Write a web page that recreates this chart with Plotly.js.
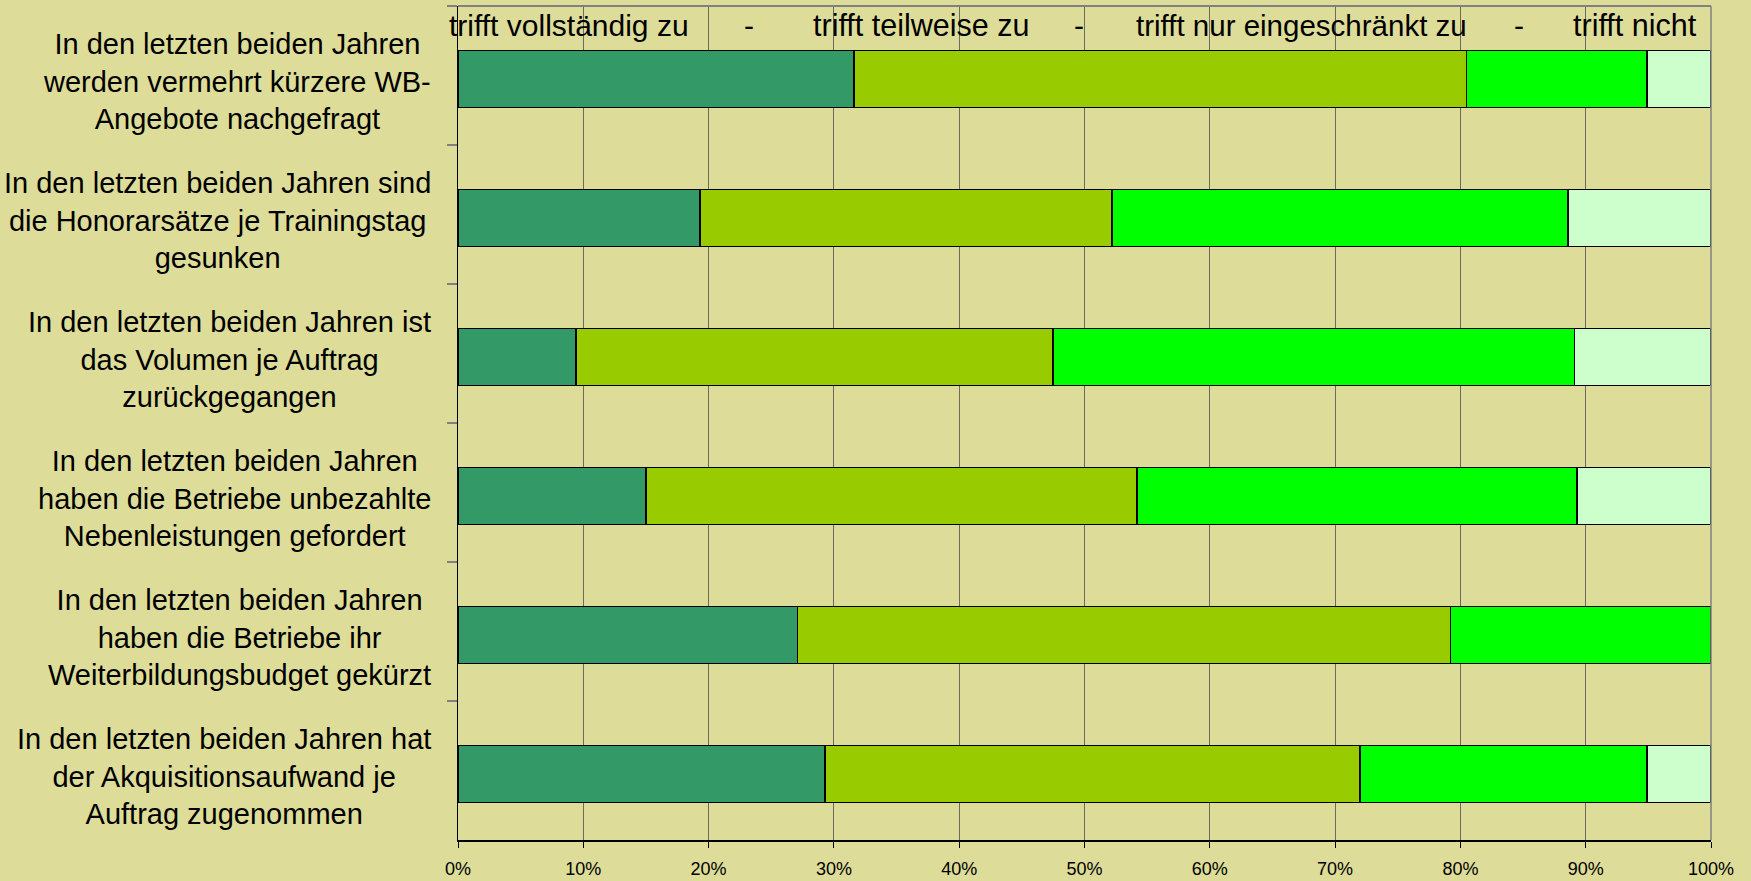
<!DOCTYPE html>
<html>
<head>
<meta charset="utf-8">
<script src="https://cdn.plot.ly/plotly-3.0.1.min.js"></script>
<style>html,body{margin:0;padding:0;background:#DDDD99;}#chart{width:1751px;height:881px;}</style>
</head>
<body>
<div id="chart"></div>
<script>
const categories = [
  "In den letzten beiden Jahren<br>werden vermehrt kürzere WB-<br>Angebote nachgefragt",
  "In den letzten beiden Jahren sind<br>die Honorarsätze je Trainingstag<br>gesunken",
  "In den letzten beiden Jahren ist<br>das Volumen je Auftrag<br>zurückgegangen",
  "In den letzten beiden Jahren<br>haben die Betriebe unbezahlte<br>Nebenleistungen gefordert",
  "In den letzten beiden Jahren<br>haben die Betriebe ihr<br>Weiterbildungsbudget gekürzt",
  "In den letzten beiden Jahren hat<br>der Akquisitionsaufwand je<br>Auftrag zugenommen"
];
const seriesNames = ["trifft vollständig zu", "trifft teilweise zu", "trifft nur eingeschränkt zu", "trifft nicht"];
const vollstaendig   = [31.6, 19.3,  9.4, 15.0, 27.1, 29.3];
const teilweise      = [48.9, 32.9, 38.1, 39.2, 52.1, 42.7];
const eingeschraenkt = [14.4, 36.4, 41.6, 35.1, 20.8, 22.9];
const nicht          = [ 5.1, 11.4, 10.9, 10.7,  0.0,  5.1];
const tickVals = [0,10,20,30,40,50,60,70,80,90,100];
const tickLabels = ["0%","10%","20%","30%","40%","50%","60%","70%","80%","90%","100%"];

const colors = ["#339966", "#99CC00", "#00FF00", "#CCFFCC"];
const seriesData = [vollstaendig, teilweise, eingeschraenkt, nicht];

const traces = seriesData.map((vals, i) => ({
  type: "bar",
  orientation: "h",
  name: seriesNames[i],
  y: categories,
  x: vals,
  width: 0.41,
  offset: -0.181,
  marker: {color: colors[i], line: {color: "#000000", width: 1.6}},
  hoverinfo: "x+name"
}));

const font = "Liberation Sans, Arial, sans-serif";

const annotations = categories.map(c => ({
  xref: "paper", yref: "y", x: 0, y: c, xshift: -25, yshift: -6,
  xanchor: "right", yanchor: "middle", align: "center",
  text: c, showarrow: false,
  font: {family: font, size: 29, color: "#000"}
}));

const legendPos = [
  {t: seriesNames[0], x: -0.009, s: 30},
  {t: "-", x: 0.2263, s: 30},
  {t: seriesNames[1], x: 0.2817, s: 30.5},
  {t: "-", x: 0.4903, s: 30},
  {t: seriesNames[2], x: 0.5392, s: 29.5},
  {t: "-", x: 0.8413, s: 30},
  {t: seriesNames[3], x: 0.8886, s: 30.5}
];
legendPos.forEach(p => annotations.push({
  xref: "paper", yref: "paper", x: p.x, y: 0.977, xanchor: "left", yanchor: "middle",
  text: p.t, showarrow: false, font: {family: font, size: p.s, color: "#000"}
}));

const layout = {
  width: 1751, height: 881,
  barmode: "stack",
  showlegend: false,
  paper_bgcolor: "#DDDD99",
  plot_bgcolor: "#DDDD99",
  margin: {l: 458, r: 40, t: 6, b: 41, pad: 0},
  xaxis: {
    range: [0, 100],
    tickvals: tickVals, ticktext: tickLabels,
    showgrid: true, gridcolor: "#6a6a60", gridwidth: 1,
    zeroline: false,
    showline: true, linecolor: "#000", linewidth: 2,
    ticks: "outside", ticklen: 6, tickcolor: "#000", tickwidth: 1,
    ticklabelstandoff: 5,
    tickfont: {family: font, size: 18, color: "#000"},
    fixedrange: true
  },
  yaxis: {
    type: "category",
    categoryorder: "array", categoryarray: categories,
    autorange: "reversed",
    showticklabels: false,
    tickson: "boundaries",
    ticks: "outside", ticklen: 10, tickcolor: "#808080", tickwidth: 1.5,
    showgrid: false, zeroline: false,
    showline: true, linecolor: "#000", linewidth: 1.5,
    fixedrange: true
  },
  shapes: [
    {type: "line", xref: "paper", yref: "paper", x0: 0, x1: 1, y0: 1, y1: 1, line: {color: "#808080", width: 2}},
    {type: "line", xref: "paper", yref: "paper", x0: 1, x1: 1, y0: 0, y1: 1, line: {color: "#808080", width: 1.5}}
  ],
  annotations: annotations
};

Plotly.newPlot("chart", traces, layout, {displayModeBar: false, staticPlot: true});
</script>
</body>
</html>
